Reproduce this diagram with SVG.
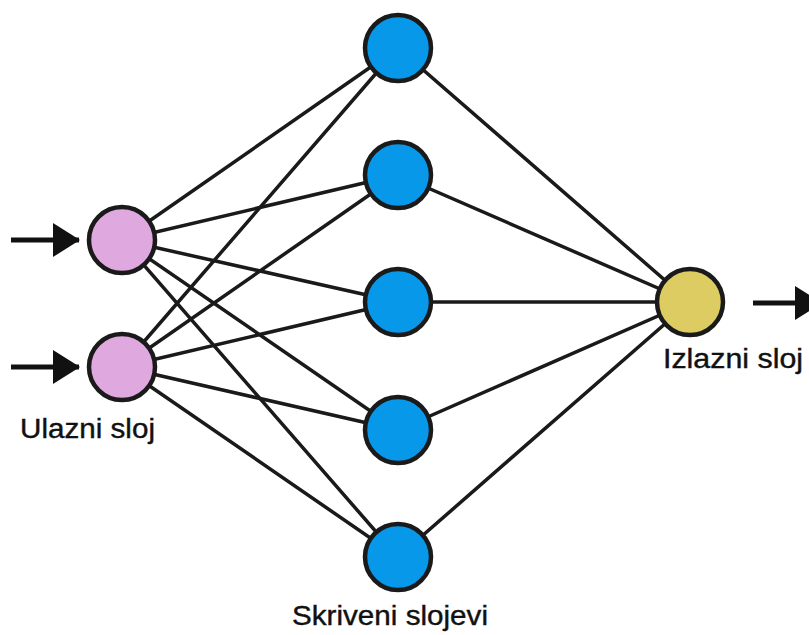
<svg xmlns="http://www.w3.org/2000/svg" width="809" height="635" viewBox="0 0 809 635">
<style>
.c{stroke:#1a1a1a;stroke-width:4.5}
.in{fill:#DFA9E0}
.hid{fill:#0798EA}
.out{fill:#DDCC62}
.e{stroke:#1a1a1a;stroke-width:3.5;fill:none}
.a{stroke:#111;stroke-width:5;fill:none}
.t{font-family:"Liberation Sans",Arial,sans-serif;font-size:27px;fill:#111;stroke:#111;stroke-width:0.4}
</style>
<defs>
<marker id="ah" markerUnits="userSpaceOnUse" markerWidth="28" markerHeight="34" refX="26" refY="17" orient="auto">
<path d="M0,0 L27,17 L0,34 Z" fill="#111"/>
</marker>
</defs>
<g id="connectors">
<path class="e" d="M122,240 L398,48 M122,240 L398,175 M122,240 L398,302 M122,240 L398,430 M122,240 L398,557"/>
<path class="e" d="M122,367 L398,48 M122,367 L398,175 M122,367 L398,302 M122,367 L398,430 M122,367 L398,557"/>
<path class="e" d="M398,48 L690,302 M398,175 L690,302 M398,302 L690,302 M398,430 L690,302 M398,557 L690,302"/>
<line class="a" x1="11" y1="240" x2="79" y2="240" marker-end="url(#ah)"/>
<line class="a" x1="11" y1="367" x2="79" y2="367" marker-end="url(#ah)"/>
<line class="a" x1="753" y1="303" x2="821" y2="303" marker-end="url(#ah)"/>
</g>
<g id="in1"><circle class="c in" cx="122" cy="240" r="33"/></g>
<g id="in2"><circle class="c in" cx="122" cy="367" r="33"/></g>
<g id="h1"><circle class="c hid" cx="398" cy="48" r="33"/></g>
<g id="h2"><circle class="c hid" cx="398" cy="175" r="33"/></g>
<g id="h3"><circle class="c hid" cx="398" cy="302" r="33"/></g>
<g id="h4"><circle class="c hid" cx="398" cy="430" r="33"/></g>
<g id="h5"><circle class="c hid" cx="398" cy="557" r="33"/></g>
<g id="out"><circle class="c out" cx="690" cy="302" r="33"/></g>
<g id="labels">
<text class="t" x="20" y="438" textLength="135" lengthAdjust="spacingAndGlyphs">Ulazni sloj</text>
<text class="t" x="663" y="368" textLength="140" lengthAdjust="spacingAndGlyphs">Izlazni sloj</text>
<text class="t" x="292" y="625" textLength="196" lengthAdjust="spacingAndGlyphs">Skriveni slojevi</text>
</g>
</svg>
